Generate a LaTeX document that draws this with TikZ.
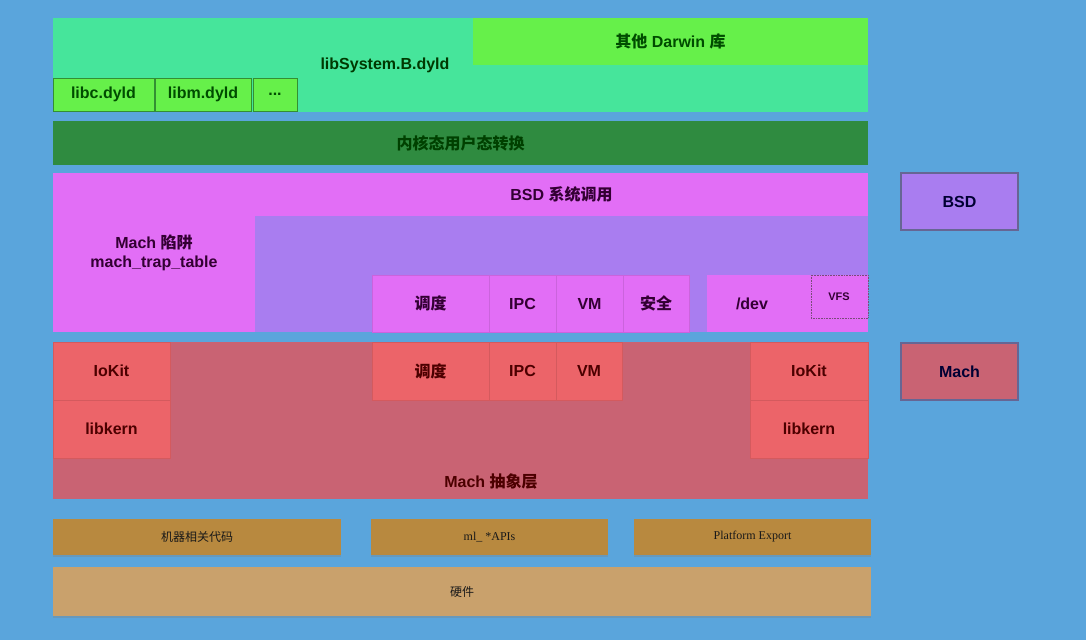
\documentclass[tikz,border=0pt]{standalone}
\usepackage{fontspec}
\setmainfont{Liberation Sans}
\newfontfamily\cjk{Noto Sans CJK SC}
\newfontfamily\serif{Liberation Serif}
\usetikzlibrary{shadows}
\definecolor{bg}{HTML}{5AA5DC}
\definecolor{libgreen}{HTML}{46E59B}
\definecolor{ltgreen}{HTML}{66F04A}
\definecolor{dkgreen}{HTML}{2F8B40}
\definecolor{magen}{HTML}{E26EF6}
\definecolor{purp}{HTML}{A97DF0}
\definecolor{machred}{HTML}{C96373}
\definecolor{salmon}{HTML}{EC6469}
\definecolor{gold}{HTML}{B8893F}
\definecolor{tan}{HTML}{C9A16C}
\newcommand\zh[1]{{\cjk\bfseries #1}}
\newcommand\blk[7]{\pgfmathsetmacro\bw{#4-#2}\pgfmathsetmacro\bh{#5-#3}%
  \node[#6,anchor=north west,minimum width=\bw pt,minimum height=\bh pt] (#1) at (#2,#3) {#7};}
\tikzset{
  base/.style={inner sep=0pt,outer sep=0pt,font=\fontsize{16}{18}\selectfont\bfseries,align=center},
  gbox/.style={base,fill=libgreen,text=black!45!green!40!black},
  lgbox/.style={base,fill=ltgreen,text=green!30!black},
  lgbord/.style={lgbox,draw=green!45!black!80,line width=0.8pt},
  dgbox/.style={base,fill=dkgreen,text=black!75!green},
  mbox/.style={base,fill=magen,text=violet!40!black},
  mboxs/.style={mbox,draw=magen!90!black,line width=0.3pt},
  pbox/.style={base,fill=purp,text=violet!40!black},
  rbox/.style={base,fill=machred,text=red!30!black},
  sbox/.style={base,fill=salmon,text=red!30!black},
  sboxs/.style={sbox,draw=salmon!90!black,line width=0.3pt},
  legend/.style={base,draw=blue!30!black!60,line width=1.2pt,text=blue!20!black},
  brown/.style={base,fill=gold,font=\fontsize{12}{14}\selectfont\serif,text=black!90,
    drop shadow={opacity=0.35,shadow xshift=0pt,shadow yshift=-2pt}},
  hw/.style={brown,fill=tan},
}
\begin{document}
\begin{tikzpicture}[x=1pt,y=-1pt]
\useasboundingbox (0,0) rectangle (1086,640);
\fill[bg] (0,0) rectangle (1086,640);
% libSystem
\blk{libsys}{53}{18}{868}{112}{gbox}{}
\blk{darwin}{473}{18}{868}{65}{lgbox}{\zh{其他} Darwin \zh{库}}
\node[gbox,fill=none] (libsystxt) at (385,65) {libSystem.B.dyld};
\blk{libc}{53}{78}{154}{111}{lgbord}{libc.dyld}
\blk{libm}{155}{78}{251}{111}{lgbord}{libm.dyld}
\blk{dots}{253}{78}{297}{111}{lgbord}{...}
% transition
\blk{trans}{53}{121}{868}{165}{dgbox}{\zh{内核态用户态转换}}
% BSD
\blk{bsdarea}{255}{173}{868}{332}{pbox}{}
\blk{trap}{53}{173}{255}{332}{mbox}{Mach \zh{陷阱}\\[1pt]mach\_trap\_table}
\blk{bsdcall}{255}{173}{868}{216}{mbox}{BSD \zh{系统调用}}
\blk{bsched}{372}{275}{489}{332}{mboxs}{\zh{调度}}
\blk{bipc}{489}{275}{556}{332}{mboxs}{IPC}
\blk{bvm}{556}{275}{623}{332}{mboxs}{VM}
\blk{bsec}{623}{275}{689}{332}{mboxs}{\zh{安全}}
\blk{bdev}{707}{275}{868}{332}{mbox}{}
\node[mbox,fill=none] (devtxt) at (752,304) {/dev};
\blk{vfs}{811}{275}{868}{318}{mbox}{}
\draw[densely dotted,line width=0.6pt,draw=violet!50!black!70] (vfs.north west) rectangle (vfs.south east);
\node[mbox,fill=none,font=\fontsize{11}{12}\selectfont\bfseries] (vfstxt) at (839,297) {VFS};
% Mach
\blk{mach}{53}{342}{868}{499}{rbox}{}
\node[rbox,fill=none] (machtxt) at (491,481) {Mach \zh{抽象层}};
\blk{iokl}{53}{342}{170}{400}{sboxs}{IoKit}
\blk{libkl}{53}{400}{170}{458}{sboxs}{libkern}
\blk{msched}{372}{342}{489}{400}{sboxs}{\zh{调度}}
\blk{mipc}{489}{342}{556}{400}{sboxs}{IPC}
\blk{mvm}{556}{342}{622}{400}{sboxs}{VM}
\blk{iokr}{750}{342}{868}{400}{sboxs}{IoKit}
\blk{libkr}{750}{400}{868}{458}{sboxs}{libkern}
% legend
\blk{legbsd}{901}{173}{1018}{230}{legend,fill=purp}{BSD}
\blk{legmach}{901}{343}{1018}{400}{legend,fill=machred}{Mach}
% bottom
\blk{mdcode}{53}{519}{341}{555}{brown}{{\cjk 机器相关代码}}
\blk{mlapi}{371}{519}{608}{555}{brown}{ml\_ *APIs}
\blk{plat}{634}{519}{871}{555}{brown}{Platform Export}
\blk{hard}{53}{567}{871}{616}{hw}{{\cjk 硬件}}
\end{tikzpicture}
\end{document}
